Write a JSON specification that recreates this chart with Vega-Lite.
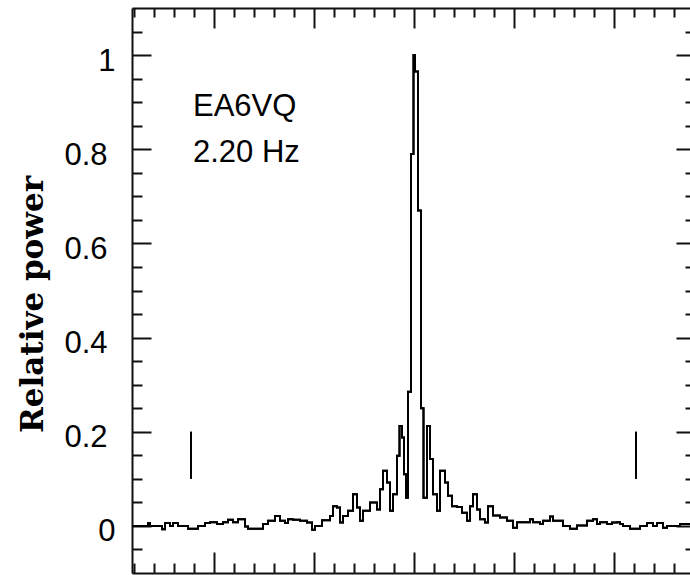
{
  "$schema": "https://vega.github.io/schema/vega-lite/v6.json",
  "width": 558,
  "height": 565,
  "autosize": {"type": "none"},
  "padding": {"left": 132, "top": 8, "right": 0, "bottom": 2},
  "background": "white",
  "config": {
    "view": {"stroke": null},
    "axis": {
      "domainColor": "#111",
      "domainWidth": 2,
      "tickColor": "#111",
      "tickWidth": 2,
      "grid": false,
      "labelFont": "Liberation Sans",
      "labelFontSize": 31,
      "labelColor": "#000"
    }
  },
  "datasets": {
    "spectrum": [
      {"f": -2.82, "p": 0}, {"f": -2.66, "p": 0.006}, {"f": -2.64, "p": 0}, {"f": -2.52, "p": -0.007},
      {"f": -2.49, "p": 0.006}, {"f": -2.44, "p": 0}, {"f": -2.41, "p": 0.006}, {"f": -2.36, "p": 0},
      {"f": -2.26, "p": -0.006}, {"f": -2.16, "p": 0}, {"f": -2.09, "p": 0.006}, {"f": -2.04, "p": 0.008},
      {"f": -1.97, "p": 0.004}, {"f": -1.91, "p": 0.008}, {"f": -1.86, "p": 0.013}, {"f": -1.81, "p": 0.008},
      {"f": -1.76, "p": 0.014}, {"f": -1.69, "p": -0.001}, {"f": -1.66, "p": -0.006}, {"f": -1.51, "p": 0.004},
      {"f": -1.46, "p": 0.011}, {"f": -1.39, "p": 0.021}, {"f": -1.34, "p": 0.011}, {"f": -1.29, "p": 0.006},
      {"f": -1.26, "p": 0.014}, {"f": -1.21, "p": 0.013}, {"f": -1.14, "p": 0.011}, {"f": -1.07, "p": 0.007},
      {"f": -1.02, "p": -0.008}, {"f": -0.99, "p": 0}, {"f": -0.92, "p": 0.012}, {"f": -0.84, "p": 0.021},
      {"f": -0.81, "p": 0.042}, {"f": -0.77, "p": 0.039}, {"f": -0.74, "p": 0.007}, {"f": -0.71, "p": 0.021},
      {"f": -0.66, "p": 0.032}, {"f": -0.61, "p": 0.067}, {"f": -0.57, "p": 0.039}, {"f": -0.54, "p": 0.011},
      {"f": -0.51, "p": 0.032}, {"f": -0.44, "p": 0.05}, {"f": -0.37, "p": 0.035}, {"f": -0.34, "p": 0.078},
      {"f": -0.31, "p": 0.117}, {"f": -0.27, "p": 0.092}, {"f": -0.24, "p": 0.032}, {"f": -0.21, "p": 0.067},
      {"f": -0.17, "p": 0.149}, {"f": -0.145, "p": 0.212}, {"f": -0.12, "p": 0.188}, {"f": -0.1, "p": 0.11},
      {"f": -0.08, "p": 0.06}, {"f": -0.06, "p": 0.285}, {"f": -0.03, "p": 0.79}, {"f": -0.005, "p": 1.0},
      {"f": 0.01, "p": 0.965}, {"f": 0.04, "p": 0.67}, {"f": 0.07, "p": 0.25}, {"f": 0.095, "p": 0.06},
      {"f": 0.13, "p": 0.212}, {"f": 0.16, "p": 0.142}, {"f": 0.19, "p": 0.067}, {"f": 0.23, "p": 0.032},
      {"f": 0.26, "p": 0.117}, {"f": 0.31, "p": 0.092}, {"f": 0.34, "p": 0.064}, {"f": 0.38, "p": 0.042},
      {"f": 0.43, "p": 0.04}, {"f": 0.48, "p": 0.028}, {"f": 0.53, "p": 0.011}, {"f": 0.56, "p": 0.042},
      {"f": 0.59, "p": 0.067}, {"f": 0.63, "p": 0.035}, {"f": 0.66, "p": 0.014}, {"f": 0.71, "p": 0.007},
      {"f": 0.74, "p": 0.042}, {"f": 0.79, "p": 0.022}, {"f": 0.86, "p": 0.018}, {"f": 0.93, "p": 0.011},
      {"f": 0.99, "p": -0.004}, {"f": 1.03, "p": 0.008}, {"f": 1.16, "p": 0.014}, {"f": 1.19, "p": 0.008},
      {"f": 1.26, "p": 0.004}, {"f": 1.29, "p": 0.011}, {"f": 1.36, "p": 0.02}, {"f": 1.39, "p": 0.011},
      {"f": 1.49, "p": 0}, {"f": 1.56, "p": -0.006}, {"f": 1.63, "p": 0.001}, {"f": 1.73, "p": 0.011},
      {"f": 1.79, "p": 0.014}, {"f": 1.83, "p": 0.004}, {"f": 1.86, "p": 0.008}, {"f": 1.93, "p": 0.004},
      {"f": 1.98, "p": 0.007}, {"f": 2.03, "p": 0.008}, {"f": 2.06, "p": 0.004}, {"f": 2.09, "p": 0},
      {"f": 2.16, "p": -0.006}, {"f": 2.26, "p": 0}, {"f": 2.33, "p": 0.006}, {"f": 2.39, "p": 0},
      {"f": 2.43, "p": 0.006}, {"f": 2.49, "p": -0.004}, {"f": 2.53, "p": 0}, {"f": 2.66, "p": 0.004},
      {"f": 2.76, "p": 0.004}
    ],
    "markers": [
      {"f": -2.23, "p1": 0.1, "p2": 0.2},
      {"f": 2.22, "p1": 0.1, "p2": 0.2}
    ],
    "notes": [
      {"f": -2.21, "p": 0.87, "label": "EA6VQ"},
      {"f": -2.21, "p": 0.772, "label": "2.20 Hz"}
    ]
  },
  "layer": [
    {
      "data": {"name": "spectrum"},
      "mark": {"type": "line", "interpolate": "step-after", "color": "#000", "strokeWidth": 2, "clip": true},
      "encoding": {
        "x": {
          "field": "f", "type": "quantitative",
          "scale": {"domain": [-2.82, 2.76], "nice": false, "zero": false},
          "axis": {
            "orient": "bottom", "title": null, "labels": false, "domain": true,
            "values": [-2, -1, 0, 1, 2],
            "tickSize": -21
          }
        },
        "y": {
          "field": "p", "type": "quantitative",
          "scale": {"domain": [-0.1, 1.1], "nice": false, "zero": false},
          "axis": {
            "orient": "left", "domain": true, "ticks": false,
            "title": "Relative power",
            "titleFont": "DejaVu Serif", "titleFontWeight": "bold", "titleFontSize": 31, "titleColor": "#000",
            "titleAngle": 270, "titleAlign": "center", "titleBaseline": "alphabetic",
            "titleX": -90, "titleY": 296,
            "values": [0, 0.2, 0.4, 0.6, 0.8, 1],
            "labelExpr": "format(datum.value, '.1~f')",
            "labelAlign": "right", "labelBaseline": "middle",
            "labelOffset": 6,
            "labelPadding": {"condition": {"test": "datum.value == 0 || datum.value == 1", "value": 17}, "value": 25}
          }
        }
      }
    },
    {
      "data": {"name": "markers"},
      "mark": {"type": "rule", "color": "#000", "strokeWidth": 2},
      "encoding": {
        "x": {
          "field": "f", "type": "quantitative",
          "axis": {
            "orient": "top", "title": null, "labels": false, "domain": true,
            "values": [-2, -1, 0, 1, 2],
            "tickSize": -20
          }
        },
        "y": {
          "field": "p1", "type": "quantitative",
          "axis": {
            "orient": "right", "title": null, "labels": false, "domain": false,
            "values": [0, 0.2, 0.4, 0.6, 0.8, 1],
            "tickSize": -14
          }
        },
        "y2": {"field": "p2"}
      }
    },
    {
      "data": {"name": "spectrum"},
      "mark": {"type": "line", "interpolate": "step-after", "color": "#000", "strokeWidth": 2, "clip": true},
      "encoding": {
        "x": {
          "field": "f", "type": "quantitative",
          "axis": {
            "orient": "bottom", "title": null, "labels": false, "domain": false,
            "values": [-2.8, -2.6, -2.4, -2.2, -1.8, -1.6, -1.4, -1.2, -0.8, -0.6, -0.4, -0.2, 0.2, 0.4, 0.6, 0.8, 1.2, 1.4, 1.6, 1.8, 2.2, 2.4, 2.6],
            "tickSize": -10
          }
        },
        "y": {
          "field": "p", "type": "quantitative",
          "axis": {
            "orient": "right", "title": null, "labels": false, "domain": false,
            "values": [-0.05, 0.05, 0.1, 0.15, 0.25, 0.3, 0.35, 0.45, 0.5, 0.55, 0.65, 0.7, 0.75, 0.85, 0.9, 0.95, 1.05],
            "tickSize": -5
          }
        }
      }
    },
    {
      "data": {"name": "markers"},
      "mark": {"type": "rule", "color": "#000", "strokeWidth": 2},
      "encoding": {
        "x": {
          "field": "f", "type": "quantitative",
          "axis": {
            "orient": "top", "title": null, "labels": false, "domain": false,
            "values": [-2.8, -2.6, -2.4, -2.2, -1.8, -1.6, -1.4, -1.2, -0.8, -0.6, -0.4, -0.2, 0.2, 0.4, 0.6, 0.8, 1.2, 1.4, 1.6, 1.8, 2.2, 2.4, 2.6],
            "tickSize": -9
          }
        },
        "y": {
          "field": "p1", "type": "quantitative",
          "axis": {
            "orient": "left", "title": null, "labels": false, "domain": false,
            "values": [0, 0.2, 0.4, 0.6, 0.8, 1],
            "tickSize": -19
          }
        },
        "y2": {"field": "p2"}
      }
    },
    {
      "data": {"name": "notes"},
      "mark": {"type": "text", "align": "left", "baseline": "alphabetic", "font": "Liberation Sans", "fontSize": 31, "color": "#000"},
      "encoding": {
        "x": {"field": "f", "type": "quantitative", "axis": null},
        "y": {
          "field": "p", "type": "quantitative",
          "axis": {
            "orient": "left", "title": null, "labels": false, "domain": false,
            "values": [-0.05, 0.05, 0.1, 0.15, 0.25, 0.3, 0.35, 0.45, 0.5, 0.55, 0.65, 0.7, 0.75, 0.85, 0.9, 0.95, 1.05],
            "tickSize": -10
          }
        },
        "text": {"field": "label"}
      }
    }
  ],
  "resolve": {"axis": {"x": "independent", "y": "independent"}}
}
